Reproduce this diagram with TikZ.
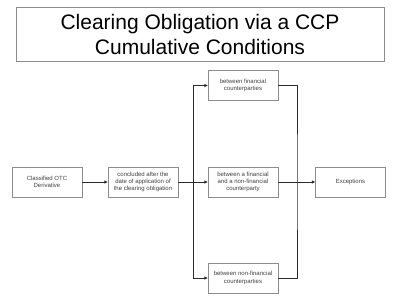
\documentclass[tikz,border=0pt]{standalone}
\usepackage{fontspec}
\setmainfont{Liberation Sans}
\usepackage{tikz}
\usetikzlibrary{arrows.meta, positioning, calc}
\definecolor{figframe}{HTML}{8C8C8C}
\definecolor{figline}{HTML}{2B2B2B}
\tikzset{
  figbox/.style={draw=figframe, line width=0.8pt, fill=white, align=center,
    inner sep=2pt, font=\fontsize{6}{7.2}\selectfont, text=black!75,
    minimum width=70pt, minimum height=30pt},
  figtitle/.style={draw=figframe, line width=0.8pt, align=center,
    font=\fontsize{21}{25}\selectfont, minimum width=368pt, minimum height=54pt},
  figarrow/.style={-{Triangle[length=3.2pt, width=3pt]}, line width=0.8pt, figline},
  figwire/.style={line width=0.9pt, figline},
}

\begin{document}
\begin{tikzpicture}[x=1pt, y=-1pt]
  \useasboundingbox (0,0) rectangle (400,300);
  % Titel
  \node[figtitle] (title) at (200,34) {Clearing Obligation via a CCP\\Cumulative Conditions};
  % Kette links
  \node[figbox] (deriv) at (47,182) {Classified OTC\\Derivative};
  \node[figbox] (concl) at (143,182) {concluded after the\\date of application of\\the clearing obligation};
  % Gegenparteien
  \node[figbox] (fin) at (243,85.5) {between financial\\counterparties};
  \node[figbox] (mixed) at (243,182) {between a financial\\and a non-financial\\counterparty};
  \node[figbox] (nonfin) at (243,278) {between non-financial\\counterparties};
  \node[figbox] (exc) at (350.5,182) {Exceptions};
  % Sammelschienen
  \coordinate (busL) at (193,182);
  \coordinate (busR) at (297,182);

  \draw[figarrow] (deriv) -- (concl);
  \draw[figarrow] (concl) -- (mixed);
  \draw[figarrow] (busL) |- (fin);
  \draw[figarrow] (busL) |- (nonfin);
  \draw[figwire] (fin) -| (busR) |- (nonfin);
  \draw[figarrow] (mixed) -- (exc);
\end{tikzpicture}
\end{document}
